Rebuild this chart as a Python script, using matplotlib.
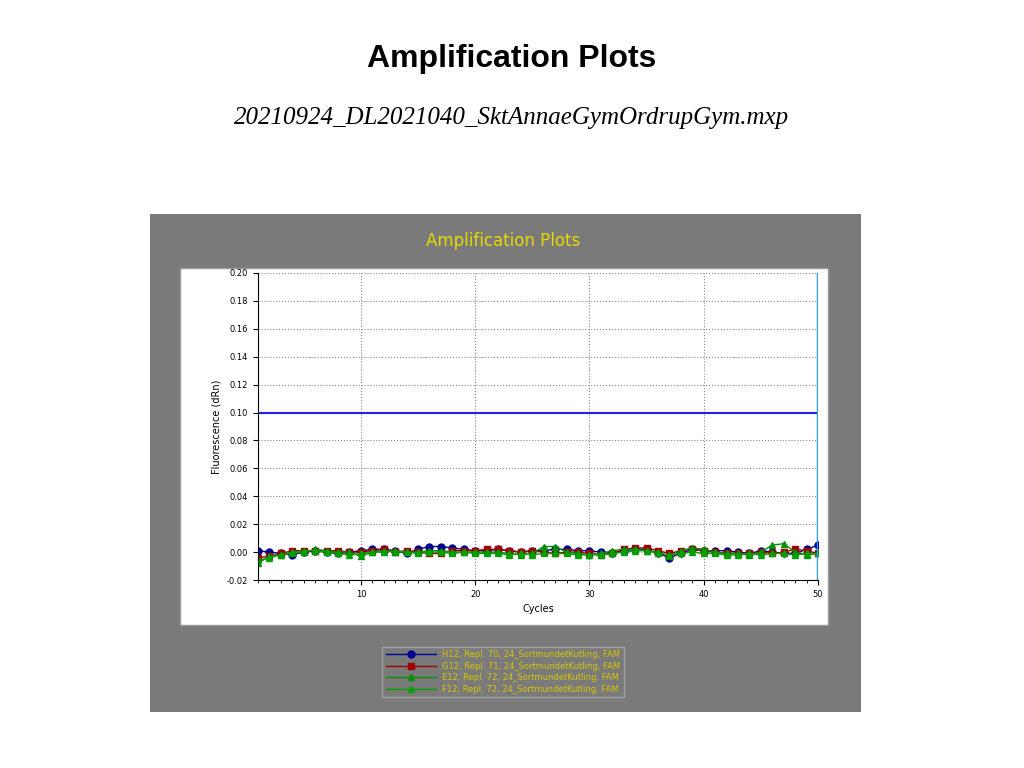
import matplotlib.pyplot as plt
from matplotlib.patches import Rectangle

cycles = list(range(1, 51))
h12 = [0.001, 0.0, -0.001, -0.002, 0.0, 0.001, 0.0, -0.001, 0.0, 0.001, 0.002, 0.002, 0.001, -0.001, 0.002, 0.004, 0.004, 0.003, 0.002, 0.001,
       0.001, 0.002, 0.001, 0.0, 0.001, 0.001, 0.002, 0.002, 0.001, 0.001, 0.0, -0.001, 0.001, 0.002, 0.002, -0.001, -0.004, -0.001, 0.002, 0.001,
       0.001, 0.001, 0.0, -0.001, 0.001, 0.0, -0.001, -0.001, 0.002, 0.005]
g12 = [-0.004, -0.003, -0.001, 0.001, 0.001, 0.001, 0.001, 0.001, 0.0, 0.0, 0.001, 0.002, 0.0, 0.001, 0.0, -0.001, -0.001, 0.001, 0.001, 0.001,
       0.002, 0.002, 0.001, 0.0, 0.001, 0.0, -0.001, 0.0, 0.0, -0.001, -0.002, -0.001, 0.002, 0.003, 0.003, 0.001, -0.001, 0.001, 0.002, 0.001,
       0.0, -0.001, -0.001, -0.001, 0.0, -0.001, 0.0, 0.002, 0.001, -0.001]
e12 = [-0.008, -0.003, -0.002, -0.001, 0.0, 0.002, 0.001, 0.0, 0.0, -0.003, 0.0, 0.001, 0.0, 0.0, 0.0, 0.001, 0.001, 0.0, 0.0, 0.0,
       0.0, 0.0, -0.001, -0.002, -0.001, 0.004, 0.004, 0.0, -0.001, -0.002, -0.001, 0.001, 0.002, 0.002, 0.001, 0.0, -0.003, 0.001, 0.003, 0.002,
       0.0, -0.001, -0.001, -0.002, 0.0, 0.005, 0.006, 0.0, -0.002, -0.001]
f12 = [-0.006, -0.004, -0.002, 0.0, 0.001, 0.001, 0.0, -0.001, -0.002, -0.001, 0.0, 0.0, 0.001, 0.0, -0.001, 0.0, 0.0, -0.001, 0.0, -0.001,
       -0.001, -0.001, -0.002, -0.001, -0.002, -0.001, -0.001, -0.001, -0.002, -0.002, -0.002, -0.001, 0.0, 0.001, 0.001, -0.001, -0.002, -0.001, 0.0, -0.001,
       -0.001, -0.002, -0.002, -0.001, -0.002, -0.001, -0.001, -0.002, -0.001, -0.001]
labels = ["H12, Repl. 70, 24_SortmundetKutling, FAM",
          "G12, Repl. 71, 24_SortmundetKutling, FAM",
          "E12, Repl. 72, 24_SortmundetKutling, FAM",
          "F12, Repl. 72, 24_SortmundetKutling, FAM"]
threshold = 0.10

fig = plt.figure(figsize=(10.24, 7.68), dpi=100)
fig.text(0.5, 0.923, "Amplification Plots", ha="center", va="center",
         fontsize=23, fontweight="bold", family="Liberation Sans")
fig.text(0.5, 0.847, "20210924_DL2021040_SktAnnaeGymOrdrupGym.mxp", ha="center", va="center",
         fontsize=18, style="italic", family="Liberation Serif")

# grey panel and white plot box
fig.patches.append(Rectangle((150/1024, 1-712/768), 711/1024, 498/768, transform=fig.transFigure,
                             facecolor="#7a7a7a", edgecolor="none", zorder=-2))
fig.patches.append(Rectangle((180/1024, 1-625/768), 648/1024, 357/768, transform=fig.transFigure,
                             facecolor="white", edgecolor="#999999", zorder=-1))
fig.text(503/1024, 1-241/768, "Amplification Plots", ha="center", va="center",
         fontsize=12, color="#e8d800")

ax = fig.add_axes([258/1024, 1-580/768, 560/1024, 307/768])
ax.set_zorder(3)
ax.plot(cycles, h12, "-o", color="#000090", ms=5, lw=1, label=labels[0])
ax.plot(cycles, g12, "-s", color="#a00000", ms=5, lw=1, label=labels[1])
ax.plot(cycles, e12, "-^", color="#009000", ms=5, lw=1, label=labels[2])
ax.plot(cycles, f12, "-^", color="#00a000", ms=4, lw=1, label=labels[3])
ax.axhline(threshold, color="#2020e0", lw=1.5)
ax.axvline(50, color="#3399ff", lw=2.5)
ax.set_xlim(1, 50)
ax.set_ylim(-0.02, 0.2)
ax.set_xticks([10, 20, 30, 40, 50])
ax.set_xticks(cycles, minor=True)
ax.set_yticks([i * 0.02 for i in range(-1, 11)])
ax.set_yticklabels(["%.2f" % (i * 0.02) for i in range(-1, 11)])
ax.tick_params(labelsize=6)
ax.grid(True, linestyle=":", color="#888888")
for s in ["top", "right"]:
    ax.spines[s].set_visible(False)
ax.set_xlabel("Cycles", fontsize=7)
ax.set_ylabel("Fluorescence (dRn)", fontsize=7)

handles, lbls = ax.get_legend_handles_labels()
leg = fig.legend(handles, lbls, loc="center", bbox_to_anchor=(503/1024, 1-672/768), fontsize=6,
                 labelcolor="#d8c800", facecolor="#7a7a7a", edgecolor="#aaaaaa", fancybox=False,
                 handlelength=6, labelspacing=0.3)

fig.savefig("out.png", dpi=100)
